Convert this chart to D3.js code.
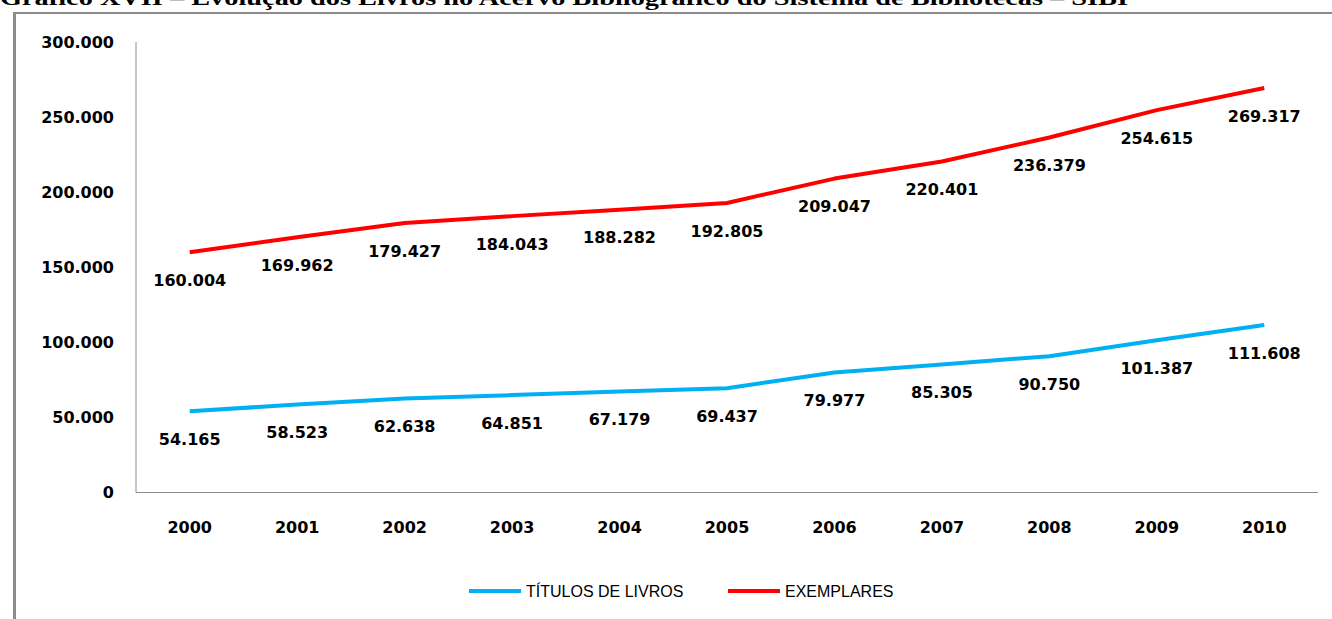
<!DOCTYPE html>
<html>
<head>
<meta charset="utf-8">
<script src="https://cdn.jsdelivr.net/npm/d3@7"></script>
<style>
  html, body { margin: 0; padding: 0; background: #fff; }
  svg { display: block; }
</style>
</head>
<body>
<svg id="chart" width="1332" height="619"></svg>
<script>
const years = ["2000","2001","2002","2003","2004","2005","2006","2007","2008","2009","2010"];
const titulos = [54165, 58523, 62638, 64851, 67179, 69437, 79977, 85305, 90750, 101387, 111608];
const exemplares = [160004, 169962, 179427, 184043, 188282, 192805, 209047, 220401, 236379, 254615, 269317];
const yTicks = [0, 50000, 100000, 150000, 200000, 250000, 300000];
const seriesNames = ["TÍTULOS DE LIVROS", "EXEMPLARES"];
const seriesColors = ["#00B0F0", "#FF0000"];
const titleText = "Gráfico XVII – Evolução dos Livros no Acervo Bibliográfico do Sistema de Bibliotecas – SIBI";

(function () {
const svg = d3.select("#chart");
const fmt = v => v === 0 ? "0" : d3.format(",")(v).replace(/,/g, ".");

// title (partially cut at top)
svg.append("text")
  .attr("x", 0).attr("y", 5)
  .attr("font-family", "Liberation Serif, serif")
  .attr("font-weight", "bold")
  .attr("font-size", 22)
  .attr("textLength", 1128)
  .attr("lengthAdjust", "spacingAndGlyphs")
  .attr("fill", "#000")
  .text(titleText);

// outer frame
svg.append("line").attr("x1", 13).attr("x2", 1332).attr("y1", 13).attr("y2", 13)
  .attr("stroke", "#8c8c8c").attr("stroke-width", 2);
svg.append("line").attr("x1", 14.5).attr("x2", 14.5).attr("y1", 12).attr("y2", 619)
  .attr("stroke", "#8c8c8c").attr("stroke-width", 3);

const pLeft = 136, pRight = 1318, pTop = 42, pBottom = 492.5;
const x = d3.scaleBand().domain(years).range([pLeft, pRight]);
const y = d3.scaleLinear().domain([0, 300000]).range([pBottom, pTop]);
const cx = d => x(d) + x.bandwidth() / 2;

// axes
const yAxis = svg.append("g").attr("transform", `translate(${pLeft},0)`)
  .call(d3.axisLeft(y).tickValues(yTicks).tickSize(0).tickPadding(22).tickFormat(fmt));
yAxis.select(".domain").attr("stroke", "#8c8c8c").attr("d", `M0,${pTop}V${pBottom}`);
yAxis.selectAll("text")
  .attr("font-family", "DejaVu Sans, sans-serif").attr("font-weight", "bold")
  .attr("font-size", 16).attr("fill", "#000");

const xAxis = svg.append("g").attr("transform", `translate(0,${pBottom})`)
  .call(d3.axisBottom(x).tickSize(0).tickPadding(29));
xAxis.select(".domain").attr("stroke", "#8c8c8c").attr("d", `M${pLeft},0H${pRight}`);
xAxis.selectAll("text")
  .attr("font-family", "DejaVu Sans, sans-serif").attr("font-weight", "bold")
  .attr("font-size", 16).attr("fill", "#000");

const series = [titulos, exemplares];
const line = d3.line().x((d, i) => cx(years[i])).y(d => y(d));

series.forEach((vals, s) => {
  svg.append("path")
    .datum(vals)
    .attr("d", line)
    .attr("fill", "none")
    .attr("stroke", seriesColors[s])
    .attr("stroke-width", 4)
    .attr("stroke-linejoin", "round");
  svg.append("g").selectAll("text")
    .data(vals)
    .join("text")
    .attr("x", (d, i) => cx(years[i]))
    .attr("y", d => y(d) + 28)
    .attr("dy", "0.35em")
    .attr("text-anchor", "middle")
    .attr("font-family", "DejaVu Sans, sans-serif")
    .attr("font-weight", "bold")
    .attr("font-size", 16)
    .attr("fill", "#000")
    .text(fmt);
});

// legend
const legend = svg.append("g");
const legX = [469, 728];
series.forEach((vals, s) => {
  legend.append("line")
    .attr("x1", legX[s]).attr("x2", legX[s] + 52)
    .attr("y1", 591).attr("y2", 591)
    .attr("stroke", seriesColors[s]).attr("stroke-width", 4);
  legend.append("text")
    .attr("x", legX[s] + 57).attr("y", 591).attr("dy", "0.35em")
    .attr("font-family", "Liberation Sans, sans-serif")
    .attr("font-size", 16).attr("fill", "#000")
    .text(seriesNames[s]);
});
})();
</script>
</body>
</html>
